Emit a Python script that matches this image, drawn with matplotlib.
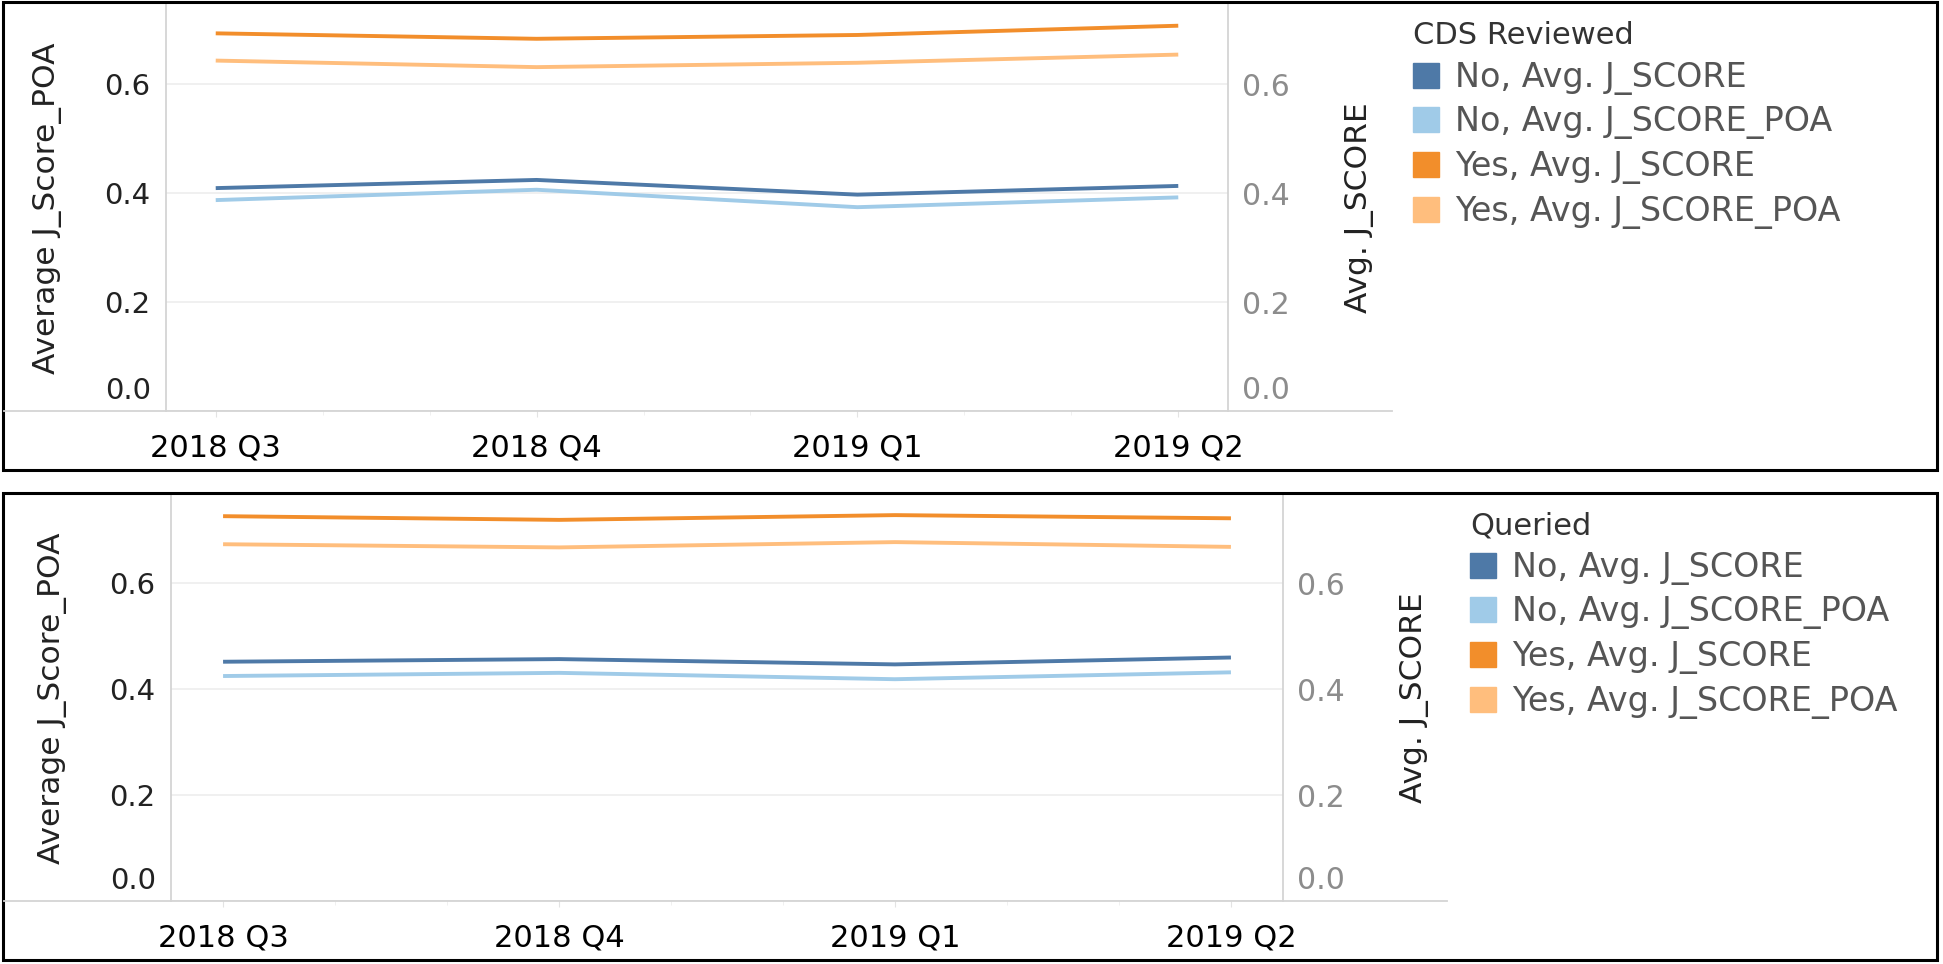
import matplotlib
matplotlib.use("Agg")
import matplotlib.pyplot as plt
import matplotlib.transforms as mtransforms
from matplotlib.patches import Patch, Rectangle
from matplotlib.lines import Line2D

plt.rcParams["font.family"] = ["DejaVu Sans"]

quarters = ["2018 Q3", "2018 Q4", "2019 Q1", "2019 Q2"]

# top panel: CDS Reviewed
cds_no_jscore = [0.409, 0.424, 0.397, 0.413]
cds_no_poa = [0.387, 0.406, 0.374, 0.392]
cds_yes_jscore = [0.693, 0.683, 0.690, 0.707]
cds_yes_poa = [0.643, 0.631, 0.639, 0.654]

# bottom panel: Queried
qry_no_jscore = [0.452, 0.457, 0.447, 0.460]
qry_no_poa = [0.425, 0.431, 0.419, 0.432]
qry_yes_jscore = [0.727, 0.720, 0.729, 0.723]
qry_yes_poa = [0.674, 0.668, 0.678, 0.669]

yticks = [0.0, 0.2, 0.4, 0.6]
legend_labels = ["No, Avg. J_SCORE", "No, Avg. J_SCORE_POA",
                 "Yes, Avg. J_SCORE", "Yes, Avg. J_SCORE_POA"]
colors = ["#4e79a7", "#a0cbe8", "#f28e2b", "#ffbe7d"]

W, H = 1943, 964
fig = plt.figure(figsize=(W / 100, H / 100), dpi=100)


def px_rect(x0, y0, x1, y1):
    # pixel box (top-left origin) -> figure fraction rect
    return [x0 / W, 1 - y1 / H, (x1 - x0) / W, (y1 - y0) / H]


def draw_panel(rect, no_js, no_poa, yes_js, yes_poa, ymax, title,
               leg_xy, axis_line_end):
    ax = fig.add_axes(px_rect(*rect))
    ax2 = ax.twinx()
    x = list(range(len(quarters)))

    ax.plot(x, no_poa, color=colors[1], lw=2.8, solid_capstyle="butt")
    ax.plot(x, yes_poa, color=colors[3], lw=2.8, solid_capstyle="butt")
    ax2.plot(x, no_js, color=colors[0], lw=2.8, solid_capstyle="butt")
    ax2.plot(x, yes_js, color=colors[2], lw=2.8, solid_capstyle="butt")

    for a in (ax, ax2):
        a.set_xlim(-0.155, 3.155)
        a.set_ylim(0, ymax)
        a.set_yticks(yticks)
        a.set_yticklabels([f"{v:.1f}" for v in yticks])
        for s in a.spines.values():
            s.set_visible(False)
        a.tick_params(axis="y", length=0)

    ax.yaxis.grid(True, color="#ededed", lw=1.2)
    ax.set_axisbelow(True)
    ax.spines["left"].set_visible(True)
    ax.spines["left"].set_color("#d4d4d4")
    ax.spines["left"].set_linewidth(1.3)
    ax2.spines["right"].set_visible(True)
    ax2.spines["right"].set_color("#d4d4d4")
    ax2.spines["right"].set_linewidth(1.3)

    ax.set_xticks(x)
    ax.set_xticklabels(quarters)
    ax.set_xticks([i + k / 3 for i in range(3) for k in (1, 2)], minor=True)
    ax.tick_params(axis="x", which="major", length=4, color="#e3e3e3", pad=12,
                   labelsize=22, labelcolor="#000000")
    ax.tick_params(axis="x", which="minor", length=3, color="#eeeeee")
    ax2.tick_params(axis="x", length=0)

    ax.tick_params(axis="y", labelsize=21, labelcolor="#222222", pad=11)
    ax2.tick_params(axis="y", labelsize=21.5, labelcolor="#8c8c8c", pad=10)

    # bottom tick label sits above the axis line like Tableau does
    shift = mtransforms.ScaledTranslation(0, 4 / 72, fig.dpi_scale_trans)
    for a in (ax, ax2):
        lab = a.get_yticklabels()[0]
        lab.set_va("bottom")
        lab.set_transform(lab.get_transform() + shift)

    ax.set_ylabel("Average J_Score_POA", fontsize=22.5, color="#222222",
                  labelpad=31)
    ax2.set_ylabel("Avg. J_SCORE", fontsize=22.5, color="#222222",
                   labelpad=40)

    # horizontal axis rule running across the pane
    y_rule = 1 - rect[3] / H
    fig.add_artist(Line2D([4 / W, axis_line_end / W], [y_rule, y_rule],
                          transform=fig.transFigure, color="#d4d4d4", lw=1.3))

    handles = [Patch(facecolor=c, edgecolor=c) for c in colors]
    leg = fig.legend(handles, legend_labels, title=title, loc="upper left",
                     bbox_to_anchor=(leg_xy[0] / W, 1 - leg_xy[1] / H),
                     frameon=False, fontsize=24, title_fontsize=22,
                     handlelength=0.78, handleheight=0.78, handletextpad=0.48,
                     labelspacing=0.32, alignment="left", borderpad=0,
                     borderaxespad=0)
    for t in leg.get_texts():
        t.set_color("#555555")
    leg.get_title().set_color("#333333")
    return ax, ax2


draw_panel((166, 5, 1228, 411), cds_no_jscore, cds_no_poa, cds_yes_jscore,
           cds_yes_poa, 0.745, "CDS Reviewed", (1413, 21), 1392)
draw_panel((171, 495, 1283, 901), qry_no_jscore, qry_no_poa, qry_yes_jscore,
           qry_yes_poa, 0.767, "Queried", (1470, 511), 1447)

# outer frames around each worksheet
for y0, y1 in ((2, 470), (493, 960)):
    fig.add_artist(Rectangle((3 / W, 1 - y1 / H), (1937 - 3) / W, (y1 - y0) / H,
                             transform=fig.transFigure, fill=False,
                             edgecolor="black", lw=2.2))

fig.savefig("out.png", dpi=100, facecolor="white")
